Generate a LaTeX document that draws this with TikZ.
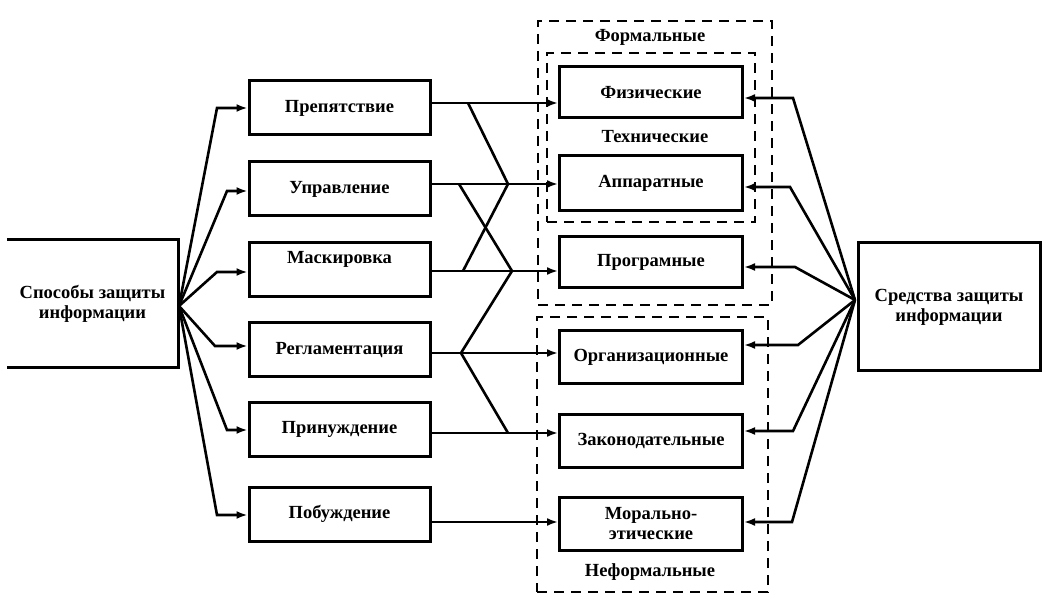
\documentclass[tikz,border=0pt]{standalone}
\usepackage{fontspec}
\setmainfont{Liberation Serif}
\usetikzlibrary{arrows.meta}
\tikzset{
  box/.style={draw, line width=3pt, minimum width=181pt, minimum height=54pt, inner sep=0pt, font=\txt},
  mean/.style={draw, line width=3pt, minimum width=183pt, inner sep=0pt, font=\txt, align=center},
  grp/.style={draw, dashed, dash pattern=on 10pt off 7pt, line width=2.6pt, inner sep=0pt},
  lbl/.style={inner sep=0pt, font=\txt},
  conn/.style={line width=2.6pt},
  arr/.style={conn, -{Latex[length=11pt,width=8pt]}},
}
\newcommand{\txt}{\bfseries\fontsize{18.5}{20}\selectfont}
\begin{document}
\begin{tikzpicture}[x=1pt,y=-1pt]
\useasboundingbox (0,0) rectangle (1052,609);
% groups
\node[grp, minimum width=234pt, minimum height=284pt] (form) at (655,163) {};
\node[grp, minimum width=208pt, minimum height=169pt] (tech) at (651,137.5) {};
\node[grp, minimum width=231pt, minimum height=275pt] (nef) at (652.5,454.5) {};
\node[lbl] (lform) at (650,37) {Формальные};
\node[lbl] (ltech) at (655,137) {Технические};
\node[lbl] (lnef) at (650,572) {Неформальные};
% left main
\node[inner sep=0pt, minimum width=171pt, minimum height=127pt, font=\txt, align=center] (sp) at (92.5,303.5) {Способы защиты\\информации};
\draw[line width=3pt] (sp.north west) -- (sp.north east) -- (sp.south east) -- (sp.south west);
% right main
\node[draw, line width=3pt, minimum width=182pt, minimum height=128pt, inner sep=0pt, font=\txt, align=center] (sr) at (949,307) {Средства защиты\\информации};
% methods
\node[box] (pr) at (339.5,108) {Препятствие};
\node[box] (up) at (339.5,189) {Управление};
\node[box] (ma) at (339.5,270) {\raisebox{11pt}[0.7em][0.2em]{Маскировка}};
\node[box] (re) at (339.5,350) {Регламентация};
\node[box] (pn) at (339.5,429.5) {Принуждение};
\node[box] (pb) at (339.5,514) {Побуждение};
% means
\node[mean, minimum height=51pt] (fz) at (651,92.5) {Физические};
\node[mean, minimum height=55pt] (ap) at (651,183.5) {Аппаратные};
\node[mean, minimum height=51pt] (pg) at (651,262.5) {Програмные};
\node[mean, minimum height=53pt] (or) at (651,357.5) {Организационные};
\node[mean, minimum height=53pt] (zk) at (651,440.5) {Законодательные};
\node[mean, minimum height=53pt] (mo) at (651,523.5) {Морально-\\этические};
% left fan
\coordinate (fl) at (179,306);
\coordinate (b1) at (217,108);
\coordinate (b2) at (227,191);
\coordinate (b3) at (217,272);
\coordinate (b4) at (215,346);
\coordinate (b5) at (227,430);
\coordinate (b6) at (217,515);
\draw[arr] (fl) -- (b1) -- (b1 -| pr.west);
\draw[arr] (fl) -- (b2) -- (b2 -| up.west);
\draw[arr] (fl) -- (b3) -- (b3 -| ma.west);
\draw[arr] (fl) -- (b4) -- (b4 -| re.west);
\draw[arr] (fl) -- (b5) -- (b5 -| pn.west);
\draw[arr] (fl) -- (b6) -- (b6 -| pb.west);
% right fan
\coordinate (fr) at (855,300);
\coordinate (c1) at (793,98);
\coordinate (c2) at (790,187);
\coordinate (c3) at (795,267);
\coordinate (c4) at (798,345);
\coordinate (c5) at (793,431);
\coordinate (c6) at (792,522);
\draw[arr] (fr) -- (c1) -- (c1 -| fz.east);
\draw[arr] (fr) -- (c2) -- (c2 -| ap.east);
\draw[arr] (fr) -- (c3) -- (c3 -| pg.east);
\draw[arr] (fr) -- (c4) -- (c4 -| or.east);
\draw[arr] (fr) -- (c5) -- (c5 -| zk.east);
\draw[arr] (fr) -- (c6) -- (c6 -| mo.east);
% middle
\coordinate (m1) at (468,103);
\coordinate (j1) at (508,184);
\coordinate (m2) at (459,184);
\coordinate (j2) at (512,271);
\coordinate (m3) at (463,271);
\coordinate (m4) at (461,353);
\coordinate (j3) at (508,433);
\coordinate (m6) at (500,522);
\draw[arr] (m1 -| pr.east) -- (m1 -| fz.west);
\draw[arr] (j1 -| up.east) -- (j1 -| ap.west);
\draw[arr] (j2 -| ma.east) -- (j2 -| pg.west);
\draw[arr] (m4 -| re.east) -- (m4 -| or.west);
\draw[arr] (j3 -| pn.east) -- (j3 -| zk.west);
\draw[arr] (m6 -| pb.east) -- (m6 -| mo.west);
\draw[conn] (m1) -- (j1);
\draw[conn] (m2) -- (j2);
\draw[conn] (m3) -- (j1);
\draw[conn] (j2) -- (m4) -- (j3);
\end{tikzpicture}
\end{document}
